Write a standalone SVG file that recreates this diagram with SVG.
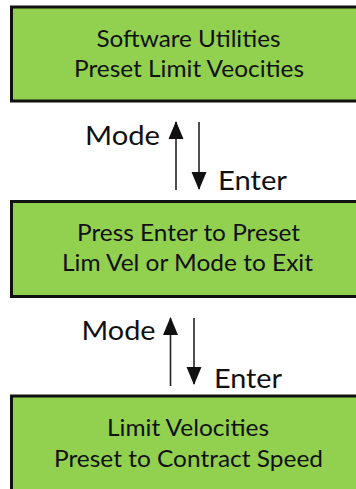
<svg xmlns="http://www.w3.org/2000/svg" width="356" height="489" viewBox="0 0 356 489">
  <style>
    .box { fill: #92D050; stroke: #111; stroke-width: 3; }
    .lbl { font-family: Lato, "Liberation Sans", sans-serif; font-size: 24px; fill: #111; text-anchor: middle; }
    .key { font-family: Lato, "Liberation Sans", sans-serif; font-size: 27.5px; fill: #111; }
    .conn { stroke: #222; stroke-width: 1.6; fill: none; marker-end: url(#ah); }
  </style>
  <defs>
    <marker id="ah" markerUnits="userSpaceOnUse" markerWidth="18" markerHeight="16" refX="17" refY="8" orient="auto">
      <path d="M0,0.5 L18,8 L0,15.5 z" fill="#111"/>
    </marker>
  </defs>
  <rect width="356" height="489" fill="#fff"/>
  <g id="node-software-utilities">
    <rect class="box" x="11.5" y="7" width="360" height="94"/>
    <text class="lbl" x="188.5" y="47" textLength="184" lengthAdjust="spacingAndGlyphs">Software Utilities</text>
    <text class="lbl" x="189" y="77" textLength="230" lengthAdjust="spacingAndGlyphs">Preset Limit Veocities</text>
  </g>
  <g id="node-press-enter">
    <rect class="box" x="11.5" y="201.5" width="360" height="95"/>
    <text class="lbl" x="188.5" y="241" textLength="223" lengthAdjust="spacingAndGlyphs">Press Enter to Preset</text>
    <text class="lbl" x="187.5" y="271" textLength="251" lengthAdjust="spacingAndGlyphs">Lim Vel or Mode to Exit</text>
  </g>
  <g id="node-limit-velocities">
    <rect class="box" x="11.5" y="396" width="360" height="110"/>
    <text class="lbl" x="188" y="436" textLength="162" lengthAdjust="spacingAndGlyphs">Limit Velocities</text>
    <text class="lbl" x="188.5" y="467" textLength="269" lengthAdjust="spacingAndGlyphs">Preset to Contract Speed</text>
  </g>
  <g id="connectors">
    <line class="conn" x1="176" y1="190" x2="176" y2="122"/>
    <line class="conn" x1="199" y1="122" x2="199" y2="189"/>
    <line class="conn" x1="170.5" y1="386" x2="170.5" y2="318"/>
    <line class="conn" x1="194" y1="318" x2="194" y2="384"/>
    <text class="key" x="85" y="144.5" textLength="75" lengthAdjust="spacingAndGlyphs">Mode</text>
    <text class="key" x="218" y="190" textLength="69" lengthAdjust="spacingAndGlyphs">Enter</text>
    <text class="key" x="81.5" y="339.5" textLength="74" lengthAdjust="spacingAndGlyphs">Mode</text>
    <text class="key" x="214" y="387.5" textLength="68" lengthAdjust="spacingAndGlyphs">Enter</text>
  </g>
</svg>
